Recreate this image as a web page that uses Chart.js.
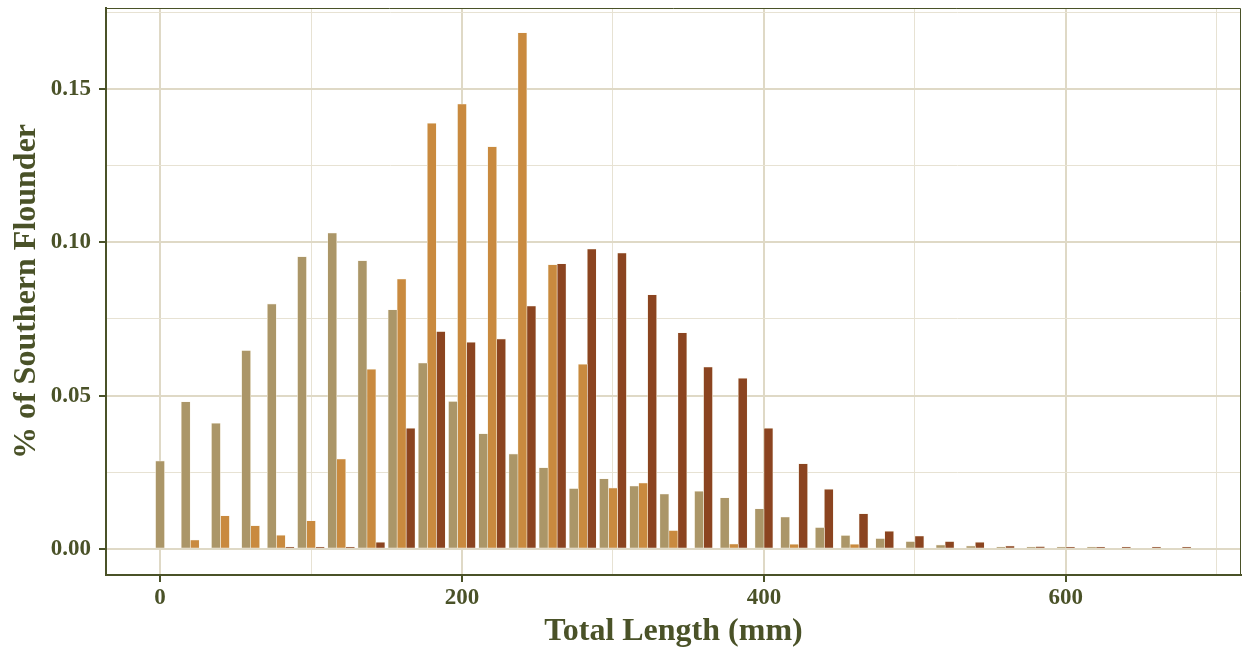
<!DOCTYPE html>
<html>
<head>
<meta charset="utf-8">
<script src="https://cdn.jsdelivr.net/npm/chart.js@4.4.1/dist/chart.umd.min.js"></script>
<style>
  html, body { margin: 0; padding: 0; background: #fff; }
  #wrap { width: 1244px; height: 651px; }
</style>
</head>
<body>
<div id="wrap"><canvas id="lengthChart" width="1244" height="651"></canvas></div>
<script>
// length bins (mm), 20 mm wide
const lengthBins = [0, 20, 40, 60, 80, 100, 120, 140, 160, 180, 200, 220, 240, 260, 280, 300, 320, 340,
  360, 380, 400, 420, 440, 460, 480, 500, 520, 540, 560, 580, 600, 620, 640, 660, 680];

// share of fish in each bin, one array per group (null = no fish in that bin)
const tanShare = [0.0287, 0.0480, 0.0410, 0.0647, 0.0799, 0.0953, 0.1030, 0.0940, 0.0780, 0.0606,
  0.0481, 0.0376, 0.0310, 0.0265, 0.0197, 0.0229, 0.0205, 0.0179, 0.0188, 0.0167,
  0.0131, 0.0104, 0.0070, 0.0044, 0.0034, 0.0024, 0.0013, 0.0010, 0.0006, 0.0005,
  0.0004, 0.0002, null, null, null];
const orangeShare = [null, 0.0029, 0.0108, 0.0076, 0.0045, 0.0092, 0.0293, 0.0586, 0.0880, 0.1388,
  0.1451, 0.1312, 0.1683, 0.0927, 0.0602, 0.0199, 0.0215, 0.0060, null, 0.0016,
  null, 0.0015, null, 0.0015, null, null, null, null, null, null,
  null, null, null, null, null];
const brownShare = [null, null, null, null, 0.0002, 0.0002, 0.0004, 0.0022, 0.0394, 0.0709,
  0.0674, 0.0685, 0.0792, 0.0930, 0.0978, 0.0965, 0.0829, 0.0705, 0.0593, 0.0557,
  0.0394, 0.0278, 0.0195, 0.0115, 0.0058, 0.0042, 0.0024, 0.0022, 0.0010, 0.0008,
  0.0004, 0.0002, 0.0001, 0.0001, 0.0001];

// axis ticks: every other one is a minor grid line without a label
const xTickValues = [0, 100, 200, 300, 400, 500, 600, 700];
const xTickLabels = ['0', '', '200', '', '400', '', '600', ''];
const yTickValues = [0, 0.025, 0.05, 0.075, 0.10, 0.125, 0.15, 0.175];
const yTickLabels = ['0.00', '', '0.05', '', '0.10', '', '0.15', ''];

const ink = '#4a5228';
const majorGrid = '#dfd9c6';
const minorGrid = '#e7e2d3';
const serif = "'Liberation Serif', 'DejaVu Serif', serif";

function toPoints(values) {
  return lengthBins.map((x, i) => ({ x: x, y: values[i] }));
}

const barLook = {
  borderWidth: 0.6,
  borderColor: 'rgba(246,240,226,0.95)',
  borderSkipped: false,
  barThickness: 9,
  minBarLength: 2,
  skipNull: true
};

// thin frame on the top and right sides of the plot panel
const panelFrame = {
  id: 'panelFrame',
  beforeDatasetsDraw(chart) {
    const { ctx, chartArea: a } = chart;
    ctx.save();
    ctx.strokeStyle = ink;
    ctx.lineWidth = 1;
    ctx.beginPath();
    ctx.moveTo(a.left, a.top + 0.5);
    ctx.lineTo(a.right - 0.5, a.top + 0.5);
    ctx.lineTo(a.right - 0.5, a.bottom);
    ctx.stroke();
    ctx.restore();
  }
};

new Chart(document.getElementById('lengthChart'), {
  type: 'bar',
  data: {
    datasets: [
      { label: 'tan', data: toPoints(tanShare), backgroundColor: '#ab9668', ...barLook },
      { label: 'orange', data: toPoints(orangeShare), backgroundColor: '#c98a3f', ...barLook },
      { label: 'brown', data: toPoints(brownShare), backgroundColor: '#8b4420', ...barLook }
    ]
  },
  options: {
    responsive: false,
    animation: false,
    devicePixelRatio: 1,
    layout: { padding: { top: 8, right: 3, left: 0, bottom: 0 } },
    plugins: { legend: { display: false }, tooltip: { enabled: false } },
    scales: {
      x: {
        type: 'linear',
        min: -35.8,
        max: 716,
        offset: false,
        afterBuildTicks: s => { s.ticks = xTickValues.map(v => ({ value: v })); },
        afterFit: s => { s.height = 76; s.paddingLeft = 0; s.paddingRight = 0; },
        ticks: {
          callback: (v, i) => xTickLabels[i],
          color: ink,
          font: { family: serif, size: 23, weight: 'bold' },
          padding: 2,
          maxRotation: 0,
          autoSkip: false
        },
        grid: {
          offset: false,
          color: c => (c.index % 2 ? minorGrid : majorGrid),
          lineWidth: c => (c.index % 2 ? 1 : 2),
          tickLength: 7,
          tickWidth: 2,
          tickColor: c => (c.index % 2 ? 'rgba(0,0,0,0)' : ink)
        },
        border: { display: true, color: ink, width: 2 },
        title: {
          display: true,
          text: 'Total Length (mm)',
          color: ink,
          font: { family: serif, size: 32, weight: 'bold' },
          padding: { top: 0, bottom: 0 }
        }
      },
      y: {
        min: -0.0085,
        max: 0.1764,
        afterBuildTicks: s => { s.ticks = yTickValues.map(v => ({ value: v })); },
        afterFit: s => { s.width = 106; s.paddingTop = 0; s.paddingBottom = 0; },
        ticks: {
          callback: (v, i) => yTickLabels[i],
          color: ink,
          font: { family: serif, size: 23, weight: 'bold' },
          padding: 8,
          autoSkip: false
        },
        grid: {
          color: c => (c.index % 2 ? minorGrid : majorGrid),
          lineWidth: c => (c.index % 2 ? 1 : 2),
          tickLength: 7,
          tickWidth: 2,
          tickColor: c => (c.index % 2 ? 'rgba(0,0,0,0)' : ink)
        },
        border: { display: true, color: ink, width: 2 },
        title: {
          display: true,
          text: '% of Southern Flounder',
          color: ink,
          font: { family: serif, size: 32, weight: 'bold' },
          padding: { top: 8, bottom: 0 }
        }
      }
    }
  },
  plugins: [panelFrame]
});
</script>
</body>
</html>
